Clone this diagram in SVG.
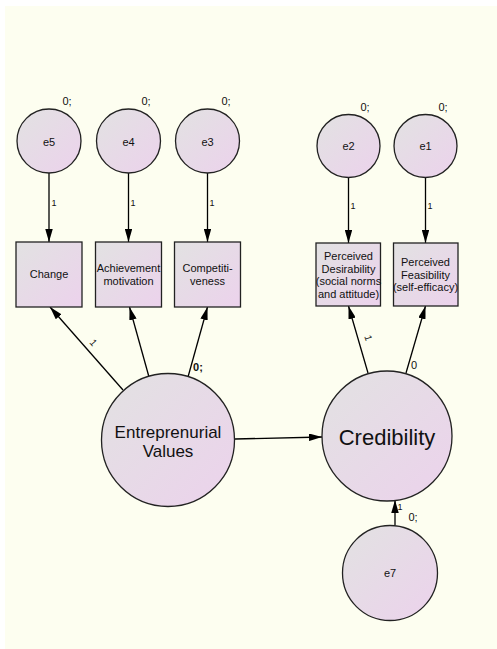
<svg xmlns="http://www.w3.org/2000/svg" width="497" height="649" viewBox="0 0 497 649">
<defs>
<linearGradient id="g" x1="0" y1="0" x2="1" y2="1">
<stop offset="0" stop-color="#e2e2e2"/>
<stop offset="1" stop-color="#ecd2ec"/>
</linearGradient>
<marker id="ah" viewBox="0 0 13 7.5" refX="13" refY="3.75" markerWidth="13" markerHeight="7.5" markerUnits="userSpaceOnUse" orient="auto">
<path d="M0,0 L13,3.75 L0,7.5 Z" fill="#000"/>
</marker>
</defs>
<style>
.shape{fill:url(#g);stroke:#222;stroke-width:1.3}
.t{font-family:"Liberation Sans",Arial,sans-serif;fill:#111;text-anchor:middle}
.s11{font-size:11px}
.s9{font-size:9px}
.c{stroke:#000;stroke-width:1.3;fill:none;marker-end:url(#ah)}
</style>
<rect x="5" y="6" width="492" height="643" fill="#fdfef0"/>

<g id="connectors">
<line class="c" x1="49" y1="173" x2="49" y2="242"/>
<line class="c" x1="128.5" y1="173" x2="128.5" y2="242"/>
<line class="c" x1="207.5" y1="173" x2="207.5" y2="242"/>
<line class="c" x1="348.5" y1="177" x2="348.5" y2="243"/>
<line class="c" x1="425.5" y1="177" x2="425.5" y2="243"/>
<line class="c" x1="123" y1="390" x2="50" y2="307"/>
<line class="c" x1="149" y1="377" x2="129.5" y2="307"/>
<line class="c" x1="188" y1="377" x2="207.5" y2="307"/>
<line class="c" x1="368" y1="373" x2="348.5" y2="306"/>
<line class="c" x1="406" y1="373" x2="425.5" y2="306"/>
<line class="c" x1="235" y1="439" x2="322" y2="437"/>
<line class="c" x1="395" y1="525" x2="395" y2="500"/>
<text class="t s9" x="54" y="206">1</text>
<text class="t s9" x="133" y="206">1</text>
<text class="t s9" x="212" y="206">1</text>
<text class="t s9" x="353" y="209">1</text>
<text class="t s9" x="430" y="209">1</text>
<text class="t" font-size="10" x="93" y="346" transform="rotate(49 93 343)">1</text>
<text class="t" font-size="10" x="368" y="341" transform="rotate(73 368 338)">1</text>
<text class="t s11" x="198" y="371" font-weight="bold">0;</text>
<text class="t s11" x="414" y="369">0</text>
<text class="t s9" x="400" y="510">1</text>
</g>

<g id="e5">
<circle class="shape" cx="49" cy="141" r="32"/>
<text class="t s11" x="49" y="146">e5</text>
<text class="t s11" x="67" y="105">0;</text>
</g>
<g id="e4">
<circle class="shape" cx="128.5" cy="141" r="32"/>
<text class="t s11" x="128.5" y="146">e4</text>
<text class="t s11" x="146" y="105">0;</text>
</g>
<g id="e3">
<circle class="shape" cx="207.5" cy="141" r="32"/>
<text class="t s11" x="207.5" y="146">e3</text>
<text class="t s11" x="226" y="105">0;</text>
</g>
<g id="e2">
<circle class="shape" cx="348.5" cy="146" r="31.5"/>
<text class="t s11" x="348.5" y="150">e2</text>
<text class="t s11" x="365" y="111">0;</text>
</g>
<g id="e1">
<circle class="shape" cx="425.5" cy="146" r="31.5"/>
<text class="t s11" x="425.5" y="150">e1</text>
<text class="t s11" x="443" y="111">0;</text>
</g>

<g id="change">
<rect class="shape" x="16" y="242" width="66" height="65"/>
<text class="t s11" x="49" y="278">Change</text>
</g>
<g id="achievement">
<rect class="shape" x="95.5" y="242" width="66" height="65"/>
<text class="t s11" x="128.5" y="272">Achievement</text>
<text class="t s11" x="128.5" y="285">motivation</text>
</g>
<g id="competitiveness">
<rect class="shape" x="174.5" y="242" width="66" height="65"/>
<text class="t s11" x="207.5" y="272">Competiti-</text>
<text class="t s11" x="207.5" y="285">veness</text>
</g>
<g id="desirability">
<rect class="shape" x="316" y="243" width="64.5" height="63"/>
<text class="t s11" x="348.5" y="259.5">Perceived</text>
<text class="t s11" x="348.5" y="272.5">Desirability</text>
<text class="t s11" x="348.5" y="285">(social norms</text>
<text class="t s11" x="348.5" y="298">and attitude)</text>
</g>
<g id="feasibility">
<rect class="shape" x="393.5" y="243" width="64.5" height="63"/>
<text class="t s11" x="425.5" y="266">Perceived</text>
<text class="t s11" x="425.5" y="278.5">Feasibility</text>
<text class="t s11" x="425.5" y="291">(self-efficacy)</text>
</g>

<g id="values">
<circle class="shape" cx="168" cy="440" r="66.5"/>
<text class="t" font-size="17" x="168" y="437.5">Entreprenurial</text>
<text class="t" font-size="17" x="168" y="457">Values</text>
</g>
<g id="credibility">
<circle class="shape" cx="387" cy="436" r="65"/>
<text class="t" font-size="22" x="387" y="444.5">Credibility</text>
</g>
<g id="e7">
<circle class="shape" cx="390" cy="573" r="47.5"/>
<text class="t s11" x="390" y="577">e7</text>
<text class="t s11" x="413" y="521">0;</text>
</g>
</svg>
